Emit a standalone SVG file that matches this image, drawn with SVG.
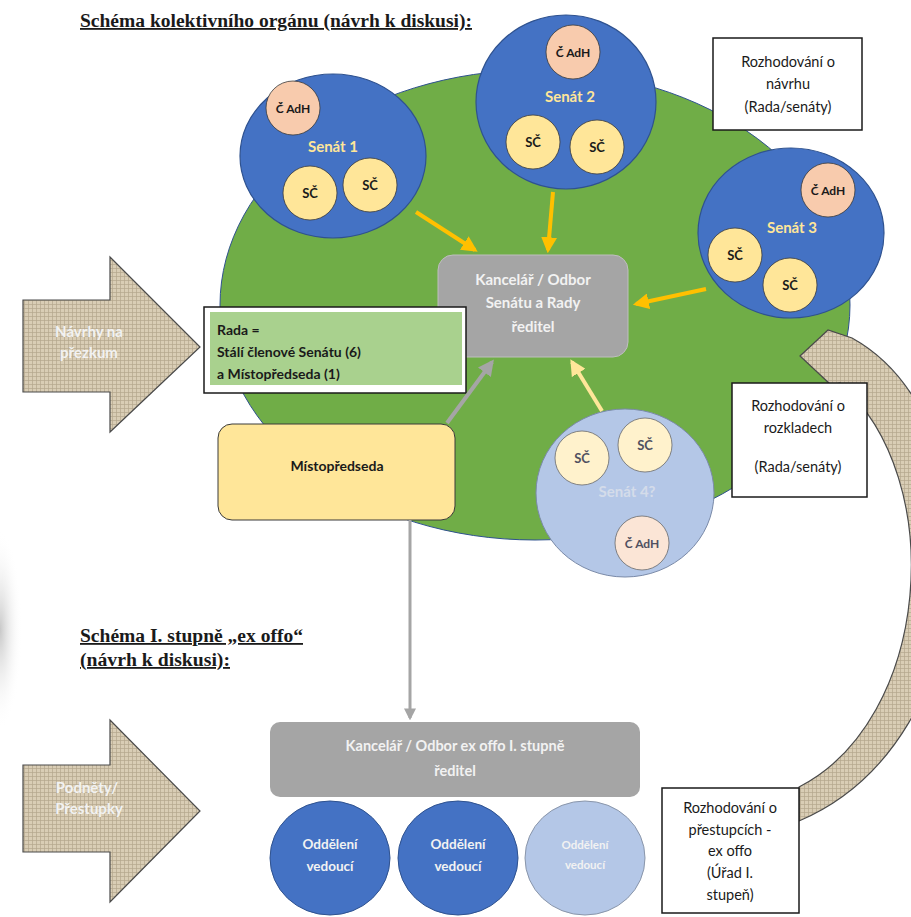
<svg xmlns="http://www.w3.org/2000/svg" width="911" height="917" viewBox="0 0 911 917">
<defs>
<pattern id="burlap" width="4" height="4" patternUnits="userSpaceOnUse"><rect width="4" height="4" fill="#D9CDB5"/><path d="M0,0.5H4M0.5,0V4" stroke="#B3A68C" stroke-width="0.7"/></pattern>
<marker id="mOr" viewBox="0 0 10 10" refX="8" refY="5" markerWidth="4" markerHeight="4" orient="auto"><path d="M0,0L10,5L0,10z" fill="#FFC000"/></marker>
<marker id="mYe" viewBox="0 0 10 10" refX="8" refY="5" markerWidth="4" markerHeight="4" orient="auto"><path d="M0,0L10,5L0,10z" fill="#FFE699"/></marker>
<marker id="mGr" viewBox="0 0 10 10" refX="8" refY="5" markerWidth="4" markerHeight="4" orient="auto"><path d="M0,0L10,5L0,10z" fill="#A5A5A5"/></marker>
<radialGradient id="edge"><stop offset="0" stop-color="#C8C8C8"/><stop offset="1" stop-color="#FFFFFF" stop-opacity="0"/></radialGradient>
</defs>
<style>
.t{font-family:Lato,"Liberation Sans",sans-serif;text-anchor:middle}
.b{font-weight:bold}
.title{font-family:"Liberation Serif",serif;font-weight:bold;font-size:18px;fill:#1a1a1a;text-decoration:underline}
.senat{fill:#4472C4;stroke:#2F528F;stroke-width:1.2}
.sc{fill:#FFE699;stroke:#3a3a3a;stroke-width:0.8}
.adh{fill:#F8CBAD;stroke:#3a3a3a;stroke-width:0.8}
.sl{fill:#FFE699;font-size:15px}
.lbl{fill:#1a1a1a;font-size:14.5px}
.box{fill:#fff;stroke:#1a1a1a;stroke-width:1.5}
.big{fill:url(#burlap);stroke:#4a4a4a;stroke-width:1.2}
.wt{fill:#F2F2F2}
</style>
<ellipse cx="0" cy="630" rx="22" ry="100" fill="url(#edge)"/>
<text class="title" x="80" y="27" textLength="392" lengthAdjust="spacingAndGlyphs">Schéma kolektivního orgánu (návrh k diskusi):</text>
<text class="title" x="80" y="642" textLength="223" lengthAdjust="spacingAndGlyphs">Schéma I. stupně „ex offo“</text>
<text class="title" x="80" y="666" textLength="150" lengthAdjust="spacingAndGlyphs">(návrh k diskusi):</text>

<g id="collective-body"><ellipse cx="535" cy="305" rx="315" ry="235" fill="#70AD47" stroke="#2F528F" stroke-width="1"/></g>

<g id="senat1">
<ellipse class="senat" cx="333" cy="156" rx="93" ry="82"/>
<circle class="adh" cx="293" cy="108" r="27"/>
<text class="t b" x="293" y="113" font-size="12" fill="#1a1a1a">Č AdH</text>
<text class="t b sl" x="333" y="152">Senát 1</text>
<circle class="sc" cx="310" cy="193" r="27"/>
<text class="t b" x="310" y="198" font-size="13" fill="#1a1a1a">SČ</text>
<circle class="sc" cx="370" cy="185" r="27"/>
<text class="t b" x="370" y="190" font-size="13" fill="#1a1a1a">SČ</text>
</g>

<g id="senat2">
<ellipse class="senat" cx="566" cy="102" rx="90" ry="87"/>
<circle class="adh" cx="573" cy="52" r="27"/>
<text class="t b" x="573" y="57" font-size="12" fill="#1a1a1a">Č AdH</text>
<text class="t b sl" x="570" y="102">Senát 2</text>
<circle class="sc" cx="533" cy="142" r="27"/>
<text class="t b" x="533" y="147" font-size="13" fill="#1a1a1a">SČ</text>
<circle class="sc" cx="597" cy="147" r="27"/>
<text class="t b" x="597" y="152" font-size="13" fill="#1a1a1a">SČ</text>
</g>

<g id="senat3">
<ellipse class="senat" cx="791" cy="233" rx="93" ry="85"/>
<circle class="adh" cx="828" cy="190" r="27"/>
<text class="t b" x="828" y="195" font-size="12" fill="#1a1a1a">Č AdH</text>
<text class="t b sl" x="792" y="233">Senát 3</text>
<circle class="sc" cx="735" cy="255" r="27"/>
<text class="t b" x="735" y="260" font-size="13" fill="#1a1a1a">SČ</text>
<circle class="sc" cx="790" cy="285" r="27"/>
<text class="t b" x="790" y="290" font-size="13" fill="#1a1a1a">SČ</text>
</g>

<g id="kancelar-senat">
<rect x="438" y="255" width="190" height="102" rx="15" fill="#A5A5A5" stroke="#BFBFBF" stroke-width="1"/>
<text class="t b wt" x="533" y="285" font-size="15">Kancelář  / Odbor</text>
<text class="t b wt" x="533" y="308" font-size="15">Senátu a Rady</text>
<text class="t b wt" x="533" y="332" font-size="15">ředitel</text>
</g>

<g id="rada">
<rect x="204" y="307" width="262" height="86" fill="#fff" stroke="#1a1a1a" stroke-width="1.5"/>
<rect x="210" y="312" width="252" height="73" fill="#A9D18E"/>
<text class="b" x="217" y="335" font-family="Lato,'Liberation Sans',sans-serif" font-size="14" fill="#1a1a1a">Rada =</text>
<text class="b" x="217" y="357" font-family="Lato,'Liberation Sans',sans-serif" font-size="14" fill="#1a1a1a">Stálí členové Senátu (6)</text>
<text class="b" x="217" y="379" font-family="Lato,'Liberation Sans',sans-serif" font-size="14" fill="#1a1a1a">a Místopředseda (1)</text>
</g>

<g id="mistopredseda">
<rect x="218" y="424" width="237" height="96" rx="14" fill="#FFE699" stroke="#3a3a3a" stroke-width="1"/>
<text class="t b" x="337" y="471" font-size="14" fill="#1a1a1a">Místopředseda</text>
</g>

<g id="senat4">
<ellipse cx="625" cy="493" rx="89" ry="84" fill="#B4C7E7" stroke="#7a8aa8" stroke-width="1"/>
<circle cx="582" cy="458" r="27" fill="#FFF2CC" stroke="#6a6a6a" stroke-width="0.8"/>
<text class="t b" x="582" y="463" font-size="13" fill="#505060">SČ</text>
<circle cx="645" cy="445" r="27" fill="#FFF2CC" stroke="#6a6a6a" stroke-width="0.8"/>
<text class="t b" x="645" y="450" font-size="13" fill="#505060">SČ</text>
<text class="t b" x="627" y="497" font-size="15" fill="#D4DCEA">Senát 4?</text>
<circle cx="642" cy="543" r="27" fill="#FBE5D6" stroke="#6a6a6a" stroke-width="0.8"/>
<text class="t b" x="642" y="548" font-size="12" fill="#505060">Č AdH</text>
</g>

<g id="connectors" fill="none">
<line x1="416" y1="212" x2="475" y2="250" stroke="#FFC000" stroke-width="4" marker-end="url(#mOr)"/>
<line x1="553" y1="192" x2="548" y2="250" stroke="#FFC000" stroke-width="4" marker-end="url(#mOr)"/>
<line x1="706" y1="289" x2="636" y2="304" stroke="#FFC000" stroke-width="4" marker-end="url(#mOr)"/>
<line x1="602" y1="411" x2="572" y2="362" stroke="#FFE699" stroke-width="4" marker-end="url(#mYe)"/>
<line x1="447" y1="423" x2="492" y2="362" stroke="#A5A5A5" stroke-width="4" marker-end="url(#mGr)"/>
<line x1="410" y1="520" x2="410" y2="718" stroke="#A5A5A5" stroke-width="3" marker-end="url(#mGr)"/>
</g>

<g id="arrow-navrhy">
<polygon class="big" points="23,300 110,300 110,257 200,347 110,432 110,392 23,392"/>
<text class="t b wt" x="89" y="337" font-size="15">Návrhy na</text>
<text class="t b wt" x="89" y="358" font-size="15">přezkum</text>
</g>

<g id="arrow-podnety">
<polygon class="big" points="23,765 110,765 110,720 200,811 110,902 110,852 23,852"/>
<text class="t b wt" x="87" y="793" font-size="15">Podněty/</text>
<text class="t b wt" x="89" y="814" font-size="15">Přestupky</text>
</g>

<g id="box-navrh">
<rect class="box" x="713" y="38" width="149" height="92"/>
<text class="t lbl" x="788" y="67">Rozhodování o</text>
<text class="t lbl" x="788" y="89">návrhu</text>
<text class="t lbl" x="788" y="112">(Rada/senáty)</text>
</g>

<g id="curved-arrow">
<path class="big" d="M800,356 L828,330 L852,338 C1000,420 990,740 799,821 L799,787 C930,720 950,480 840,383 L831,385 Z"/>
</g>

<g id="box-rozklady">
<rect class="box" x="732" y="383" width="135" height="114"/>
<text class="t lbl" x="798" y="411">Rozhodování o</text>
<text class="t lbl" x="798" y="433">rozkladech</text>
<text class="t lbl" x="798" y="472">(Rada/senáty)</text>
</g>

<g id="kancelar-exoffo">
<rect x="270" y="722" width="370" height="75" rx="10" fill="#A5A5A5"/>
<text class="t b wt" x="455" y="751" font-size="14.5">Kancelář / Odbor ex offo I. stupně</text>
<text class="t b wt" x="455" y="776" font-size="14.5">ředitel</text>
</g>

<g id="oddeleni1">
<ellipse cx="330" cy="858" rx="60" ry="57" fill="#4472C4" stroke="#2F528F" stroke-width="1"/>
<text class="t b wt" x="330" y="849" font-size="13.5">Oddělení</text>
<text class="t b wt" x="330" y="871" font-size="13.5">vedoucí</text>
</g>
<g id="oddeleni2">
<ellipse cx="458" cy="858" rx="60" ry="57" fill="#4472C4" stroke="#2F528F" stroke-width="1"/>
<text class="t b wt" x="458" y="849" font-size="13.5">Oddělení</text>
<text class="t b wt" x="458" y="871" font-size="13.5">vedoucí</text>
</g>
<g id="oddeleni3">
<ellipse cx="585" cy="858" rx="60" ry="57" fill="#B4C7E7" stroke="#8a96aa" stroke-width="1"/>
<text class="t b wt" x="585" y="849" font-size="11.5">Oddělení</text>
<text class="t b wt" x="585" y="869" font-size="11.5">vedoucí</text>
</g>

<g id="box-prestupky">
<rect class="box" x="662" y="788" width="137" height="125"/>
<text class="t lbl" x="730" y="813">Rozhodování o</text>
<text class="t lbl" x="730" y="835">přestupcích -</text>
<text class="t lbl" x="730" y="856">ex offo</text>
<text class="t lbl" x="730" y="878">(Úřad I.</text>
<text class="t lbl" x="730" y="900">stupeň)</text>
</g>
</svg>
